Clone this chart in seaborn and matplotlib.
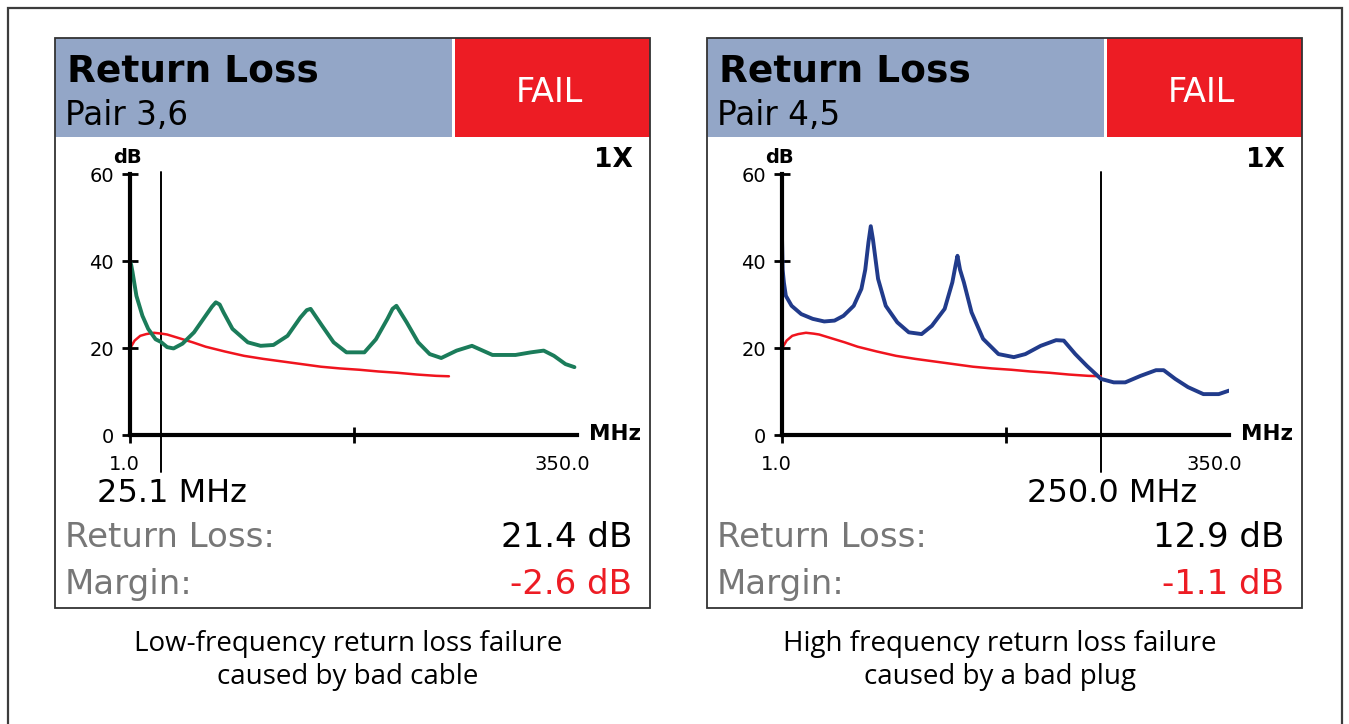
import matplotlib
matplotlib.use("Agg")
import matplotlib.pyplot as plt
import seaborn as sns
import pandas as pd
from matplotlib.patches import Rectangle
from matplotlib import font_manager as fm

# ---------------- data ----------------
x_range = [1.0, 350.0]
x_mid_tick = 175.5
y_ticks = [0, 20, 40, 60]

# Panel 1: pair 3,6 (bad cable)
cable_freq = [1, 2, 3, 6, 10.7, 15.2, 21, 25.1, 30, 35, 42, 51, 60, 65, 68, 71, 74, 81, 93, 103,
              113, 124, 134, 139, 142, 151, 160, 170, 184, 193, 202, 206, 209, 217, 226, 235, 244,
              256, 268, 284, 302, 314, 324, 332, 341, 348]
cable_rl = [40, 39, 37.4, 32, 27.4, 24.4, 22, 21.4, 20.2, 19.9, 21, 23.6, 27.4, 29.5, 30.5, 30, 28.2,
            24.4, 21.3, 20.5, 20.7, 22.8, 27, 28.7, 29, 25.1, 21.3, 19, 19, 22, 26.7, 29, 29.7, 25.9,
            21.3, 18.6, 17.7, 19.4, 20.5, 18.4, 18.4, 19, 19.4, 18.2, 16.3, 15.6]

# Panel 2: pair 4,5 (bad plug)
plug_freq = [1, 1.5, 2.5, 4, 8.5, 16, 25, 34, 42, 49, 57, 63, 66, 68.5, 70.3, 72, 76, 82, 91, 100,
             110, 118, 128, 134, 136.5, 138, 140, 143, 149, 158, 170, 182, 191, 203, 215, 221, 230,
             239, 250, 260, 269, 281, 293, 299, 308, 318, 330, 342, 350]
plug_rl = [45.5, 38, 35, 32, 29.7, 27.8, 26.7, 26.1, 26.3, 27.4, 29.7, 33.6, 38, 44.3, 48, 45, 35.9,
           29.7, 25.9, 23.6, 23.2, 25.1, 29, 35.1, 39, 41.2, 38, 35.1, 28.2, 22.1, 18.6, 17.9, 18.6,
           20.5, 21.8, 21.7, 18.6, 15.9, 12.9, 12.1, 12.1, 13.6, 14.9, 14.9, 12.9, 11, 9.4, 9.4, 10.2]

# Limit line (same standard for both pairs)
limit_freq = [1, 4.6, 9, 13.7, 19.7, 25.7, 30, 40, 50, 60, 75, 90, 105, 120, 135, 150, 165, 180, 195,
              210, 225, 240, 250]
limit_db = [19.9, 21.7, 22.8, 23.2, 23.5, 23.3, 23.1, 22.2, 21.3, 20.3, 19.2, 18.2, 17.5, 16.9, 16.3,
            15.7, 15.3, 15.0, 14.6, 14.3, 13.9, 13.6, 13.5]

pair_labels = ["Pair 3,6", "Pair 4,5"]
marker_freqs = [25.1, 250.0]
marker_labels = ["25.1 MHz", "250.0 MHz"]
rl_values = ["21.4 dB", "12.9 dB"]
margin_values = ["-2.6 dB", "-1.1 dB"]
captions = [["Low-frequency return loss failure", "caused by bad cable"],
            ["High frequency return loss failure", "caused by a bad plug"]]
curve_freqs = [cable_freq, plug_freq]
curve_vals = [cable_rl, plug_rl]
curve_colors = ["#1B7C5A", "#213B8B"]

# ---------------- style ----------------
W, H = 1349, 724
sns.set_theme(style="white")
plt.rcParams["font.family"] = ["DejaVu Sans"]
plt.rcParams["text.color"] = "black"
plt.rcParams["xtick.color"] = "black"
plt.rcParams["ytick.color"] = "black"


def has_font(name):
    try:
        fm.findfont(fm.FontProperties(family=name), fallback_to_default=False)
        return True
    except Exception:
        return False


cap_font = "Open Sans" if has_font("Open Sans") else "DejaVu Sans"
tick_size = 14

HEADER_BLUE = "#93A6C7"
FAIL_RED = "#ED1C24"
LIMIT_RED = "#F0141E"
GRAY = "#777777"

fig = plt.figure(figsize=(W / 100, H / 100), dpi=100)
fig.patch.set_facecolor("white")


def fx(px):
    return px / W


def fy(py):
    return 1 - py / H


def rect(x1, y1, x2, y2, **kw):
    r = Rectangle((fx(x1), fy(y2)), fx(x2) - fx(x1), fy(y1) - fy(y2),
                  transform=fig.transFigure, **kw)
    fig.add_artist(r)
    return r


def T(px, py, s, **kw):
    kw.setdefault("va", "baseline")
    kw.setdefault("color", "black")
    return fig.text(fx(px), fy(py), s, **kw)


# outer frame
rect(8, 8, 1342, 740, fill=False, edgecolor="#3c3c3c", lw=1.6)

for i in range(2):
    dx = 652 * i
    x0 = 55 + dx
    # header
    rect(x0, 38, x0 + 397, 137, facecolor=HEADER_BLUE, edgecolor="none")
    rect(x0 + 400, 38, x0 + 595, 137, facecolor=FAIL_RED, edgecolor="none")
    rect(x0, 38, x0 + 595, 608, fill=False, edgecolor="#333333", lw=1.3)

    T(x0 + 12, 81, "Return Loss", fontsize=27, fontweight="bold")
    T(x0 + 10, 125, pair_labels[i], fontsize=23.5)
    T(x0 + 494, 102, "FAIL", fontsize=24, color="white", ha="center")
    T(x0 + 578, 167, "1X", fontsize=19, fontweight="bold", ha="right")

    T(x0 + 10, 547, "Return Loss:", fontsize=24.5, color=GRAY)
    T(x0 + 577, 547, rl_values[i], fontsize=24.5, ha="right")
    T(x0 + 10, 594, "Margin:", fontsize=24.5, color=GRAY)
    T(x0 + 577, 594, margin_values[i], fontsize=24.5, color=FAIL_RED, ha="right")

    T(x0 + 293, 651, captions[i][0], fontsize=20, family=cap_font, ha="center")
    T(x0 + 293, 684, captions[i][1], fontsize=20, family=cap_font, ha="center")

    # chart axes
    ax = fig.add_axes([fx(130 + dx), fy(435), 447 / W, 261 / H])
    ax.patch.set_alpha(0)
    ax.set_xlim(*x_range)
    ax.set_ylim(y_ticks[0], y_ticks[-1])

    sns.lineplot(x=limit_freq, y=limit_db, ax=ax, color=LIMIT_RED, lw=1.8,
                 estimator=None, sort=False)
    sns.lineplot(x=curve_freqs[i], y=curve_vals[i], ax=ax, color=curve_colors[i], lw=2.8,
                 estimator=None, sort=False)

    ax.axvline(marker_freqs[i], ymin=-37 / 261, ymax=1 + 2 / 261, color="black", lw=1.4,
               clip_on=False, zorder=1)

    for s in ["top", "right"]:
        ax.spines[s].set_visible(False)
    for s in ["left", "bottom"]:
        ax.spines[s].set_color("black")
        ax.spines[s].set_linewidth(3)
        ax.spines[s].set_zorder(5)

    ax.set_yticks(y_ticks)
    ax.set_yticklabels([str(v) for v in y_ticks])
    ax.set_xticks([x_range[0], x_mid_tick])
    ax.set_xticklabels(["", ""])
    ax.tick_params(axis="both", direction="inout", length=11, width=2, color="black",
                   left=True, bottom=True)
    ax.tick_params(axis="y", pad=6, labelsize=tick_size, labelcolor="black")
    ax.set_xlabel("")
    ax.set_ylabel("")

    ax.annotate(f"{x_range[0]:.1f}", xy=(x_range[0], 0), xytext=(-6, -35),
                textcoords="offset pixels", ha="center", va="baseline",
                fontsize=tick_size, annotation_clip=False)
    ax.annotate(f"{x_range[1]:.1f}", xy=(x_range[1], 0), xytext=(-15, -35),
                textcoords="offset pixels", ha="center", va="baseline",
                fontsize=tick_size, annotation_clip=False)
    ax.annotate("dB", xy=(x_range[0], y_ticks[-1]), xytext=(-2.5, 11),
                textcoords="offset pixels", ha="center", va="baseline",
                fontsize=14, fontweight="bold", annotation_clip=False)
    ax.annotate("MHz", xy=(x_range[1], 0), xytext=(12, -5),
                textcoords="offset pixels", ha="left", va="baseline",
                fontsize=15.5, fontweight="bold", annotation_clip=False)
    ax.annotate(marker_labels[i], xy=(marker_freqs[i], 0), xytext=(11, -67),
                textcoords="offset pixels", ha="center", va="baseline",
                fontsize=23, annotation_clip=False)

fig.savefig("out.png", dpi=100, facecolor="white")
